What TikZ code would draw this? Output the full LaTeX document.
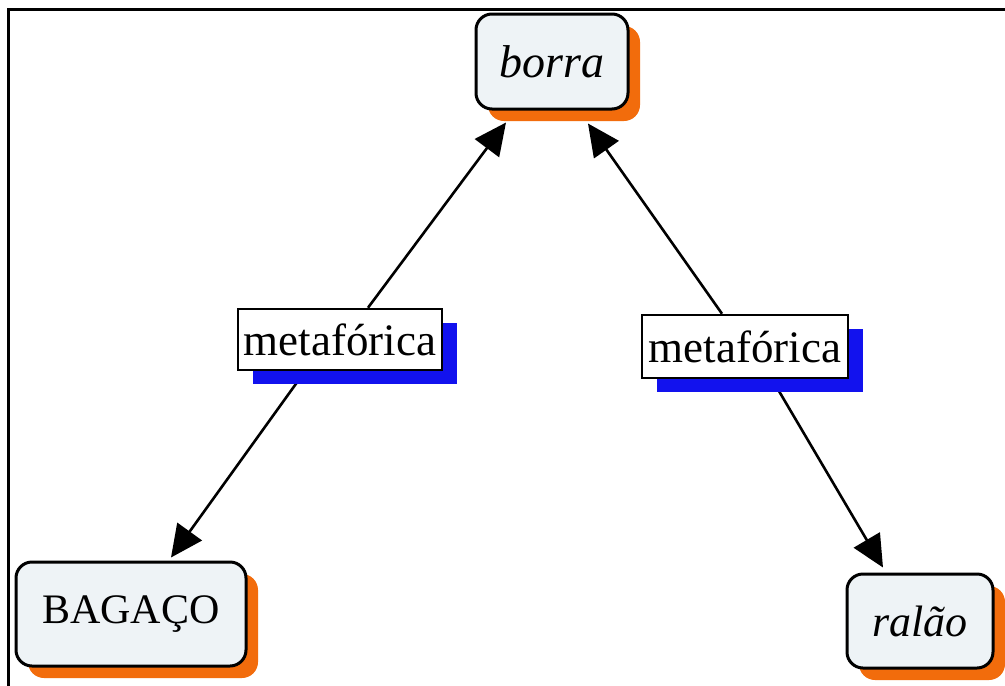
\documentclass[tikz,border=0pt]{standalone}
\usepackage{fontspec}
\setmainfont{Liberation Serif}
\usetikzlibrary{arrows.meta,shadows,calc}
\definecolor{boxfill}{HTML}{EEF3F6}
\definecolor{shorange}{HTML}{F26C0C}
\definecolor{shblue}{HTML}{1212EE}
\pgfdeclarelayer{back}
\pgfdeclarelayer{background}
\pgfsetlayers{back,background,main}
\begin{document}
\begin{tikzpicture}[x=1pt,y=-1pt,
  concept/.style={draw=black,line width=3pt,rounded corners=16pt,fill=boxfill,inner sep=0pt,
    drop shadow={shadow xshift=12pt,shadow yshift=-12pt,fill=shorange,opacity=1}},
  linklabel/.style={draw=black,line width=2.5pt,fill=white,inner sep=0pt,
    drop shadow={shadow xshift=15pt,shadow yshift=-14pt,fill=shblue,opacity=1}},
  conn/.style={line width=2.6pt,-{Triangle[length=32pt,width=30pt]}},
  labeltext/.style={font=\fontsize{45}{49}\selectfont}]
\useasboundingbox (0,0) rectangle (1005,686);
\begin{pgfonlayer}{back}
\fill[white] (0,0) rectangle (1005,686);
\end{pgfonlayer}
\draw[line width=3pt] (8.5,686) -- (8.5,9.5) -- (1005,9.5);

\node[concept,minimum width=152pt,minimum height=95pt,font=\fontsize{46}{50}\selectfont] (borra) at (552,61.5) {\itshape borra};
\node[concept,minimum width=230pt,minimum height=104pt,font=\fontsize{42}{46}\selectfont] (bagaco) at (131,614) {BAGAÇO};
\node[concept,minimum width=146pt,minimum height=94pt,font=\fontsize{44}{48}\selectfont] (ralao) at (920,621) {\itshape ralão};
\node[linklabel,minimum width=204pt,minimum height=61pt,labeltext] (l1) at (340,339.5) {metafórica};
\node[linklabel,minimum width=206pt,minimum height=63pt,labeltext] (l2) at (745,346.5) {metafórica};

\begin{pgfonlayer}{background}
\draw[conn] ($(l1.north)+(28,0)$) -- ($(borra.south)+(-46,12)$);
\draw[conn] ($(l1.south)+(-35,0)$) -- ($(bagaco.north)+(40,-3)$);
\draw[conn] ($(l2.north)+(-23,0)$) -- ($(borra.south)+(36,13)$);
\draw[conn] ($(l2.south)+(27,0)$) -- ($(ralao.north)+(-37,-5)$);
\end{pgfonlayer}
\end{tikzpicture}
\end{document}
